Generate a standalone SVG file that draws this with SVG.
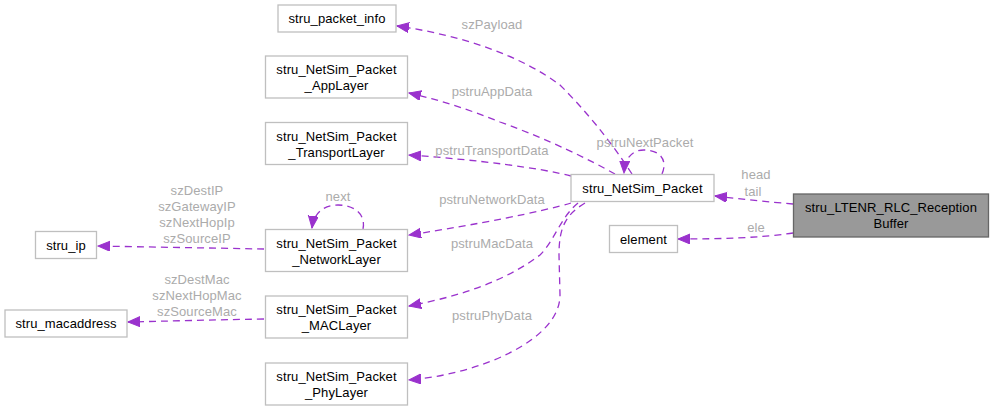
<svg xmlns="http://www.w3.org/2000/svg" width="993" height="411" viewBox="0 0 993 411">
<defs>
<style>
.box{fill:#ffffff;stroke:#bfbfbf;stroke-width:1.3}
.main{fill:#999999;stroke:#666666;stroke-width:1.3}
.t{font-family:"Liberation Sans",Arial,sans-serif;font-size:13px;letter-spacing:0.1px;fill:#000000;text-anchor:middle}
.l{font-family:"Liberation Sans",Arial,sans-serif;font-size:13px;letter-spacing:0.1px;fill:#ababab;text-anchor:middle}
.e{fill:none;stroke:#9a32cd;stroke-width:1.3;stroke-dasharray:7,5}
</style>
<marker id="ah" markerUnits="userSpaceOnUse" markerWidth="14" markerHeight="12" refX="12" refY="5" orient="auto">
<path d="M0,0 L12,5 L0,10 Z" fill="#9a32cd" stroke="#9a32cd" stroke-width="1"/>
</marker>
</defs>
<rect width="993" height="411" fill="#ffffff"/>
<g id="connectors">
<path class="e" marker-end="url(#ah)" d="M793,204 C770,202 740,199 715,196"/>
<path class="e" marker-end="url(#ah)" d="M793,233 C760,238 720,239 678,239"/>
<path class="e" marker-end="url(#ah)" d="M632,174 C610,140 585,110 560,85 C520,55 460,35 397,26"/>
<path class="e" marker-end="url(#ah)" d="M615,174 C590,160 550,140 500,122 C470,110 440,100 409,93"/>
<path class="e" marker-end="url(#ah)" d="M571,176 C540,168 480,160 409,155"/>
<path class="e" marker-end="url(#ah)" d="M571,203 C540,212 480,224 409,235"/>
<path class="e" marker-end="url(#ah)" d="M578,203 C560,218 555,240 540,255 C500,285 450,298 409,306"/>
<path class="e" marker-end="url(#ah)" d="M585,203 C565,215 559,228 559,255 L560,295 C560,340 480,374 409,380"/>
<path class="e" marker-end="url(#ah)" d="M662,174 C668,160 660,150 644,150 C634,150 625,156 624,173"/>
<path class="e" marker-end="url(#ah)" d="M363,229 C366,215 355,205 338,205 C326,205 314,211 312,228"/>
<path class="e" marker-end="url(#ah)" d="M264,249 C210,248 150,247 98,246"/>
<path class="e" marker-end="url(#ah)" d="M264,319 C210,320 170,321 128,322"/>
<text class="l" x="492" y="29">szPayload</text>
<text class="l" x="492" y="96">pstruAppData</text>
<text class="l" x="492" y="155">pstruTransportData</text>
<text class="l" x="492" y="204">pstruNetworkData</text>
<text class="l" x="492" y="248">pstruMacData</text>
<text class="l" x="492" y="320">pstruPhyData</text>
<text class="l" x="645" y="147">pstruNextPacket</text>
<text class="l" x="756" y="179">head</text>
<text class="l" x="753" y="196">tail</text>
<text class="l" x="756" y="232">ele</text>
<text class="l" x="338" y="201">next</text>
<text class="l" x="197" y="195">szDestIP</text>
<text class="l" x="197" y="211">szGatewayIP</text>
<text class="l" x="197" y="227">szNextHopIp</text>
<text class="l" x="197" y="243">szSourceIP</text>
<text class="l" x="197" y="284">szDestMac</text>
<text class="l" x="197" y="300">szNextHopMac</text>
<text class="l" x="197" y="316">szSourceMac</text>
</g>
<g id="rlc_buffer">
<rect class="main" x="793.5" y="194" width="195" height="43"/>
<text class="t" x="891" y="212">stru_LTENR_RLC_Reception</text>
<text class="t" x="891" y="228">Buffer</text>
</g>
<g id="netsim_packet">
<rect class="box" x="571" y="174.5" width="143" height="27"/>
<text class="t" x="642.5" y="192.5">stru_NetSim_Packet</text>
</g>
<g id="element">
<rect class="box" x="609.5" y="225.5" width="68" height="27"/>
<text class="t" x="643.5" y="243.5">element</text>
</g>
<g id="packet_info">
<rect class="box" x="278" y="5" width="118" height="27"/>
<text class="t" x="337" y="23">stru_packet_info</text>
</g>
<g id="app_layer">
<rect class="box" x="265.5" y="56" width="142" height="42"/>
<text class="t" x="336.5" y="74">stru_NetSim_Packet</text>
<text class="t" x="336.5" y="90">_AppLayer</text>
</g>
<g id="transport_layer">
<rect class="box" x="265.5" y="122.5" width="142" height="42"/>
<text class="t" x="336.5" y="140.5">stru_NetSim_Packet</text>
<text class="t" x="336.5" y="156.5">_TransportLayer</text>
</g>
<g id="network_layer">
<rect class="box" x="265.5" y="229.5" width="142" height="42"/>
<text class="t" x="336.5" y="247.5">stru_NetSim_Packet</text>
<text class="t" x="336.5" y="263.5">_NetworkLayer</text>
</g>
<g id="mac_layer">
<rect class="box" x="265.5" y="296" width="142" height="42"/>
<text class="t" x="336.5" y="314">stru_NetSim_Packet</text>
<text class="t" x="336.5" y="330">_MACLayer</text>
</g>
<g id="phy_layer">
<rect class="box" x="265.5" y="363" width="142" height="42"/>
<text class="t" x="336.5" y="381">stru_NetSim_Packet</text>
<text class="t" x="336.5" y="397">_PhyLayer</text>
</g>
<g id="stru_ip">
<rect class="box" x="35.5" y="231.5" width="61" height="27"/>
<text class="t" x="66" y="249.5">stru_ip</text>
</g>
<g id="macaddress">
<rect class="box" x="5" y="310" width="122" height="27"/>
<text class="t" x="66" y="328">stru_macaddress</text>
</g>
</svg>
